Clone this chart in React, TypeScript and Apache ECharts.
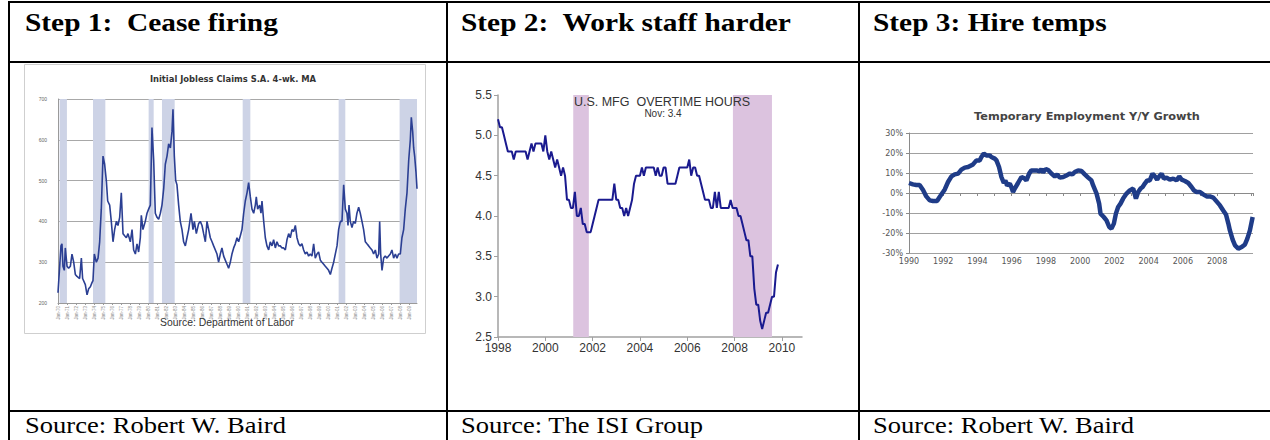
import React, { useEffect, useRef } from "react";
import * as echarts from "echarts";

// ---------- Panel 1: Initial jobless claims (thousands), 4-wk MA ----------
const claimsYears = [
  1970.0, 1970.33, 1970.44, 1970.55, 1970.7, 1970.81, 1971.0, 1971.18, 1971.37, 1971.55, 1971.74, 1971.92,
  1972.11, 1972.4, 1972.59, 1972.73, 1973.03, 1973.22, 1973.4, 1973.59, 1973.77, 1973.88, 1974.03, 1974.25,
  1974.44, 1974.62, 1974.8, 1974.99, 1975.17, 1975.36, 1975.51, 1975.73, 1975.91, 1976.1, 1976.28, 1976.47,
  1976.65, 1976.84, 1977.02, 1977.21, 1977.39, 1977.58, 1977.76, 1978.02, 1978.21, 1978.39, 1978.58, 1978.76,
  1978.94, 1979.13, 1979.24, 1979.42, 1979.68, 1979.87, 1980.05, 1980.24, 1980.42, 1980.61, 1980.79, 1980.98,
  1981.16, 1981.35, 1981.53, 1981.72, 1981.9, 1982.09, 1982.27, 1982.46, 1982.64, 1982.75, 1982.9, 1983.05,
  1983.19, 1983.38, 1983.56, 1983.75, 1983.93, 1984.12, 1984.3, 1984.49, 1984.75, 1984.97, 1985.12, 1985.34,
  1985.6, 1985.78, 1985.97, 1986.15, 1986.34, 1986.52, 1986.71, 1986.89, 1987.08, 1987.26, 1987.63, 1987.81,
  1988.0, 1988.18, 1988.37, 1988.55, 1988.74, 1988.92, 1989.11, 1989.29, 1989.48, 1989.66, 1989.85, 1990.03,
  1990.22, 1990.4, 1990.59, 1990.77, 1990.96, 1991.14, 1991.33, 1991.51, 1991.7, 1991.88, 1991.99, 1992.14,
  1992.36, 1992.51, 1992.62, 1992.81, 1992.99, 1993.17, 1993.36, 1993.54, 1993.73, 1993.91, 1994.1, 1994.28,
  1994.47, 1994.65, 1994.84, 1995.02, 1995.21, 1995.39, 1995.58, 1995.76, 1995.95, 1996.13, 1996.32, 1996.5,
  1996.69, 1996.87, 1997.05, 1997.24, 1997.42, 1997.61, 1997.79, 1997.98, 1998.16, 1998.35, 1998.53, 1998.72,
  1998.9, 1999.09, 1999.27, 1999.46, 1999.64, 1999.83, 2000.01, 2000.2, 2000.38, 2000.57, 2000.75, 2000.94,
  2001.12, 2001.31, 2001.49, 2001.68, 2001.86, 2002.04, 2002.16, 2002.27, 2002.41, 2002.6, 2002.78, 2002.97,
  2003.15, 2003.34, 2003.52, 2003.71, 2003.89, 2004.08, 2004.26, 2004.45, 2004.63, 2004.82, 2005.0, 2005.19,
  2005.37, 2005.56, 2005.67, 2005.78, 2005.93, 2006.11, 2006.29, 2006.48, 2006.66, 2006.85, 2007.03, 2007.22,
  2007.41, 2007.59, 2007.77, 2007.96, 2008.14, 2008.33, 2008.51, 2008.7, 2008.89, 2009.07, 2009.18, 2009.33,
  2009.44, 2009.55, 2009.7, 2009.81,
];
const claimsValues = [
  225, 340, 345, 290, 280, 335, 290, 285, 290, 320, 300, 270,
  265, 260, 310, 260, 245, 220, 235, 240, 250, 255, 320, 300,
  310, 350, 430, 560, 540, 500, 450, 440, 400, 350, 380, 400,
  390, 410, 470, 370, 365, 360, 370, 350, 380, 330, 320, 345,
  325, 360, 415, 380, 400, 420, 430, 440, 630, 550, 420, 410,
  405, 420, 440, 480, 540, 560, 590, 580, 620, 675, 560, 500,
  490, 440, 400, 380, 350, 340, 360, 380, 420, 380, 400, 370,
  395, 400, 390, 370, 350, 400, 380, 360, 350, 340, 320, 300,
  320, 335, 315, 305, 295, 285, 300, 320, 335, 345, 360, 350,
  365, 380, 420, 450, 470, 495, 460, 430, 420, 440, 460, 430,
  440, 420, 450, 400, 360, 340, 330, 350, 340, 355, 335, 350,
  340, 340, 335, 335, 330, 355, 370, 360, 380, 375, 390, 360,
  345, 340, 345, 330, 320, 325, 315, 320, 315, 345, 310, 320,
  325, 305, 300, 295, 290, 285, 280, 270, 285, 300, 320, 340,
  380, 400, 400, 490, 430, 420, 390, 440, 400, 385, 400, 395,
  420, 435, 420, 400, 380, 350, 345, 340, 335, 330, 320, 330,
  310, 320, 400, 320, 280, 310, 315, 310, 315, 320, 330, 310,
  320, 310, 320, 320, 360, 380, 430, 470, 550, 600, 655, 620,
  580, 560, 520, 480,
];
const claimsRecessions = [
  [1970.18, 1970.99], [1973.88, 1975.25], [1980.05, 1980.61], [1981.53, 1982.94],
  [1990.48, 1991.33], [2001.12, 2001.86], [2007.88, 2009.81],
];

// ---------- Panel 2: US MFG overtime hours, monthly from Jan 1998 ----------
const overtimeStart = 1998;
const overtimeHours = [
  5.2, 5.1, 5.1, 5.0, 4.9, 4.8, 4.8, 4.8, 4.7, 4.8, 4.8, 4.8,
  4.8, 4.8, 4.8, 4.7, 4.8, 4.9, 4.8, 4.9, 4.9, 4.9, 4.9, 4.8,
  5.0, 4.8, 4.7, 4.8, 4.7, 4.6, 4.7, 4.6, 4.5, 4.6, 4.5, 4.2,
  4.2, 4.1, 4.1, 4.3, 4.0, 4.0, 4.1, 3.9, 3.9, 3.8, 3.8, 3.8,
  3.9, 4.0, 4.1, 4.2, 4.2, 4.2, 4.2, 4.2, 4.2, 4.2, 4.2, 4.4,
  4.2, 4.2, 4.1, 4.1, 4.0, 4.1, 4.0, 4.1, 4.2, 4.4, 4.5, 4.5,
  4.5, 4.6, 4.5, 4.6, 4.6, 4.6, 4.6, 4.6, 4.5, 4.6, 4.5, 4.5,
  4.6, 4.6, 4.4, 4.4, 4.4, 4.4, 4.4, 4.5, 4.6, 4.6, 4.6, 4.6,
  4.6, 4.7, 4.5, 4.6, 4.6, 4.5, 4.5, 4.4, 4.3, 4.2, 4.2, 4.2,
  4.1, 4.1, 4.3, 4.1, 4.3, 4.1, 4.1, 4.1, 4.1, 4.1, 4.2, 4.1,
  4.1, 4.1, 4.0, 4.0, 3.9, 3.8, 3.7, 3.7, 3.5, 3.5, 3.1, 2.9,
  2.9, 2.7, 2.6, 2.7, 2.8, 2.8, 2.9, 3.0, 3.0, 3.3, 3.4,
];
const overtimeRecessions = [[2001.18, 2001.84], [2007.93, 2009.58]];
const overtimeYearTicks = [1998, 2000, 2002, 2004, 2006, 2008, 2010];

// ---------- Panel 3: Temporary employment Y/Y growth (%) ----------
const tempYears = [
  1990.0, 1990.23, 1990.43, 1990.62, 1990.82, 1991.01, 1991.21, 1991.4, 1991.64, 1991.79, 1991.99, 1992.09,
  1992.28, 1992.48, 1992.67, 1992.87, 1993.06, 1993.26, 1993.45, 1993.74, 1993.94, 1994.13, 1994.23, 1994.37,
  1994.52, 1994.72, 1994.81, 1995.01, 1995.11, 1995.26, 1995.4, 1995.54, 1995.63, 1995.73, 1995.89, 1995.98,
  1996.08, 1996.18, 1996.37, 1996.57, 1996.76, 1996.86, 1997.02, 1997.15, 1997.45, 1997.64, 1997.74, 1997.84,
  1997.99, 1998.13, 1998.32, 1998.52, 1998.66, 1998.81, 1999.01, 1999.2, 1999.4, 1999.55, 1999.69, 1999.88,
  2000.08, 2000.27, 2000.47, 2000.66, 2000.76, 2000.96, 2001.11, 2001.19, 2001.38, 2001.54, 2001.7, 2001.83,
  2001.97, 2002.09, 2002.22, 2002.36, 2002.51, 2002.71, 2002.9, 2003.1, 2003.26, 2003.39, 2003.53, 2003.65,
  2003.78, 2003.92, 2004.07, 2004.23, 2004.37, 2004.5, 2004.62, 2004.76, 2004.89, 2005.05, 2005.24, 2005.44,
  2005.63, 2005.79, 2005.93, 2006.12, 2006.32, 2006.51, 2006.65, 2006.8, 2007.0, 2007.19, 2007.39, 2007.58,
  2007.78, 2007.97, 2008.17, 2008.36, 2008.52, 2008.66, 2008.75, 2008.91, 2009.05, 2009.24, 2009.44, 2009.63,
  2009.77, 2009.92, 2010.08,
];
const tempGrowth = [
  5, 4.3, 4, 4, 1.5, -1.7, -3.7, -4, -4, -2, 0.5, 1.8,
  5.5, 8.3, 9.3, 9.7, 11.7, 12.7, 13, 14.3, 16.3, 16.3, 18, 19.7,
  18.8, 18.8, 18, 17.2, 16.3, 13, 8, 5, 6.3, 3.8, 4.7, 3,
  0.5, 2.2, 5, 8, 7.2, 6.3, 9.7, 11.3, 11.3, 10.8, 12, 10.3,
  12, 11.5, 9.7, 8.3, 9.3, 7.7, 8, 8.8, 9.7, 9.3, 10.5, 11.3,
  11, 9.3, 7.7, 6.3, 3.8, -0.3, -5.3, -10.3, -12, -13.7, -17, -17.8,
  -15.3, -10.3, -7, -5.3, -2.8, -0.3, 1.3, 2.2, -2.8, 0.5, 2.2, 3,
  4.7, 6.3, 6.3, 9.7, 8.3, 6.7, 8.3, 9.7, 7.2, 7.7, 6.7, 7.2,
  6.3, 8.3, 6.7, 6, 5, 3, 1.3, 0.5, 0.5, -0.7, -1.7, -1.7,
  -2.3, -4.2, -6.2, -8.7, -10.7, -15.3, -18.7, -23.3, -26.2, -27.8, -27, -25.7,
  -22.8, -18.7, -12,
];
const tempYearLabels = [1990, 1992, 1994, 1996, 1998, 2000, 2002, 2004, 2006, 2008];

// ---------- Table texts ----------
const headers = ["Step 1:  Cease firing", "Step 2:  Work staff harder", "Step 3: Hire temps"];
const sources = ["Source: Robert W. Baird", "Source: The ISI Group", "Source: Robert W. Baird"];

const SERIF = "'Times New Roman', 'Liberation Serif', serif";
const SANS = "Arial, 'Liberation Sans', sans-serif";
const VERD = "Verdana, 'DejaVu Sans', sans-serif";

function txt(x: number, y: number, text: string, fontSize: number, opts: any = {}) {
  const align = opts.align || "center";
  return {
    type: "text", x, y, z: 100, zlevel: 0,
    scaleX: opts.scaleX || 1,
    style: {
      text, fontSize, fontFamily: opts.font || SANS, fontWeight: opts.bold ? "bold" : "normal",
      fill: opts.color || "#333",
      textAlign: align, textVerticalAlign: "middle", align, verticalAlign: "middle",
    },
  };
}

export default function App() {
  const ref = useRef<HTMLDivElement>(null);
  useEffect(() => {
    if (!ref.current) return;
    const chart = echarts.init(ref.current, null, { renderer: "svg" });

    const claimsData = claimsYears.map((y, i) => [y, claimsValues[i]]);
    const overtimeData = overtimeHours.map((v, i) => [overtimeStart + i / 12, v]);
    const tempData = tempYears.map((y, i) => [y, tempGrowth[i]]);

    const colX = [25, 461, 873];
    const lineStyle = { stroke: "#000", lineWidth: 2 };
    const L = (x1: number, y1: number, x2: number, y2: number) => ({ type: "line", z: 100, shape: { x1, y1, x2, y2 }, style: lineStyle });

    const graphic: any[] = [
      L(8, 2, 1270, 2), L(9, 1, 9, 440), L(447, 1, 447, 440), L(859, 1, 859, 440),
      L(8, 62, 1270, 62), L(8, 411, 1270, 411),
      { type: "rect", z: 0, shape: { x: 24.5, y: 64.5, width: 401, height: 269 }, style: { fill: "none", stroke: "#cfcfcf", lineWidth: 1 } },
      txt(233, 79, "Initial Jobless Claims S.A. 4-wk. MA", 8.4, { bold: true, font: VERD, color: "#333" }),
      txt(227, 322, "Source: Department of Labor", 10.4, { color: "#333" }),
      txt(662, 102, "U.S. MFG  OVERTIME HOURS", 12.5, { color: "#333" }),
      txt(663, 113.5, "Nov: 3.4", 10, { color: "#333" }),
      txt(1087, 116, "Temporary Employment Y/Y Growth", 11.3, { bold: true, font: VERD, color: "#444" }),
    ];
    headers.forEach((h, i) => graphic.push(txt(colX[i], 22, h, 26, { bold: true, font: SERIF, color: "#000", align: "left", scaleX: 1.13 })));
    sources.forEach((s, i) => graphic.push(txt(colX[i], 425.5, s, 23.5, { font: SERIF, color: "#000", align: "left", scaleX: 1.13 })));

    const option: any = {
      animation: false,
      backgroundColor: "#fff",
      graphic: { elements: graphic },
      grid: [
        { left: 58, top: 99, width: 359, height: 204 },
        { left: 498, top: 95, width: 304, height: 242 },
        { left: 909, top: 133, width: 344, height: 120 },
      ],
      xAxis: [
        {
          gridIndex: 0, type: "value", min: 1970, max: 2009.81, interval: 1,
          axisLine: { lineStyle: { color: "#9a9a9a" } },
          axisTick: { show: true, length: 2, lineStyle: { color: "#9a9a9a" } },
          splitLine: { show: false },
          axisLabel: {
            rotate: 90, fontSize: 4.5, color: "#8a8a8a", margin: 3, showMaxLabel: false,
            fontFamily: SANS,
            formatter: (v: number) => "Jan-" + String(v).slice(2),
          },
        },
        {
          gridIndex: 1, type: "value", min: 1998, max: 2010.85, interval: 2,
          axisLine: { lineStyle: { color: "#a0a0a0", width: 1.5 } },
          axisTick: { show: true, length: 4, lineStyle: { color: "#a0a0a0" } },
          splitLine: { show: false },
          axisLabel: {
            fontSize: 12, color: "#333", fontFamily: SANS, margin: 5, showMaxLabel: false,
            formatter: (v: number) => (overtimeYearTicks.includes(v) ? String(v) : ""),
          },
        },
        {
          gridIndex: 2, type: "value", min: 1990, max: 2010.1, interval: 2,
          axisLine: { lineStyle: { color: "#8a8a8a" } },
          axisTick: { show: true, length: 3, lineStyle: { color: "#8a8a8a" } },
          minorTick: { show: true, splitNumber: 2, length: 3, lineStyle: { color: "#8a8a8a" } },
          splitLine: { show: false },
          axisLabel: {
            fontSize: 8, color: "#555", fontFamily: VERD, margin: 4, showMaxLabel: false,
            formatter: (v: number) => (tempYearLabels.includes(v) ? String(v) : ""),
          },
        },
      ],
      yAxis: [
        {
          gridIndex: 0, type: "value", min: 200, max: 700, interval: 100,
          axisLine: { show: true, lineStyle: { color: "#9a9a9a" } },
          axisTick: { show: false },
          splitLine: { show: true, lineStyle: { color: "#a8a8a8", width: 1 } },
          axisLabel: { fontSize: 5, color: "#666", fontFamily: SANS, margin: 11 },
        },
        {
          gridIndex: 1, type: "value", min: 2.5, max: 5.5, interval: 0.5,
          axisLine: { show: true, lineStyle: { color: "#a0a0a0", width: 1.5 } },
          axisTick: { show: true, length: 4, lineStyle: { color: "#a0a0a0" } },
          splitLine: { show: false },
          axisLabel: { fontSize: 12, color: "#333", fontFamily: SANS, margin: 6, formatter: (v: number) => v.toFixed(1) },
        },
        {
          gridIndex: 2, type: "value", min: -30, max: 30, interval: 10,
          axisLine: { show: true, lineStyle: { color: "#8a8a8a" } },
          axisTick: { show: true, length: 3, lineStyle: { color: "#8a8a8a" } },
          splitLine: { show: true, lineStyle: { color: "#a0a0a0", width: 1 } },
          axisLabel: { fontSize: 8, color: "#555", fontFamily: VERD, margin: 6, formatter: (v: number) => v + "%" },
        },
      ],
      series: [
        {
          type: "line", xAxisIndex: 0, yAxisIndex: 0, data: claimsData, showSymbol: false,
          lineStyle: { color: "#2b3f93", width: 1.6 }, z: 3,
          markArea: {
            silent: true,
            itemStyle: { color: "#cdd3e6" },
            data: claimsRecessions.map(([a, b]) => [{ xAxis: a }, { xAxis: b }]),
          },
        },
        {
          type: "line", xAxisIndex: 1, yAxisIndex: 1, data: overtimeData, showSymbol: false,
          lineStyle: { color: "#1a1a8f", width: 2 }, z: 3,
          markArea: {
            silent: true,
            itemStyle: { color: "#dcc3df" },
            data: overtimeRecessions.map(([a, b]) => [{ xAxis: a }, { xAxis: b }]),
          },
        },
        {
          type: "line", xAxisIndex: 2, yAxisIndex: 2, data: tempData, showSymbol: false,
          lineStyle: { color: "#1f3c88", width: 4.5 }, z: 3,
        },
      ],
    };
    chart.setOption(option);
    return () => chart.dispose();
  }, []);

  return (
    <div
      ref={ref}
      style={{ position: "absolute", left: 0, top: 0, width: 1270, height: 440, background: "#fff" }}
    />
  );
}
